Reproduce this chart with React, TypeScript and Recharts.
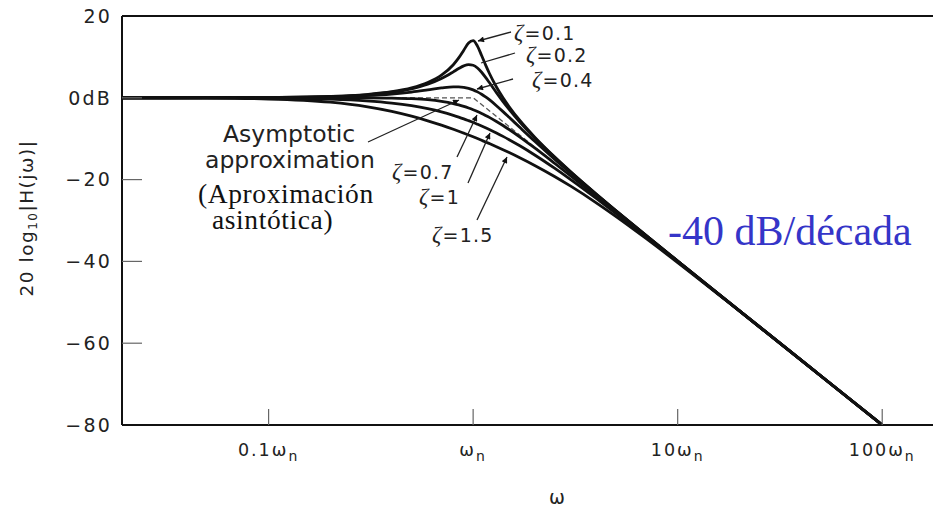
import React from "react";
import { LineChart, Line, XAxis, YAxis, ReferenceLine } from "recharts";

// Frequencies (in units of ωn) and magnitudes (dB)
const FREQ = [0.0192, 0.05, 0.1, 0.2, 0.3, 0.4, 0.5, 0.6, 0.7, 0.8, 0.85, 0.9, 0.95, 1, 1.05, 1.1, 1.15, 1.2, 1.3, 1.4, 1.5, 1.7, 2, 2.5, 3, 4, 5, 7, 10, 20, 50, 100];
const DB_Z01 = [0, 0.02, 0.09, 0.35, 0.8, 1.48, 2.42, 3.73, 5.53, 8.09, 9.75, 11.64, 13.41, 13.98, 12.63, 10.34, 8.04, 6.0, 2.65, 0.0, -2.18, -5.67, -9.62, -14.44, -18.09, -23.53, -27.61, -33.63, -39.92, -52.02, -67.96, -80.0];
const DB_Z02 = [0, 0.02, 0.08, 0.33, 0.74, 1.36, 2.2, 3.3, 4.7, 6.35, 7.15, 7.81, 8.13, 7.96, 7.28, 6.24, 5.01, 3.73, 1.27, -0.92, -2.84, -6.06, -9.84, -14.56, -18.16, -23.57, -27.63, -33.64, -39.92, -52.02, -67.96, -80.0];
const DB_Z04 = [0, 0.01, 0.06, 0.24, 0.53, 0.93, 1.41, 1.94, 2.41, 2.68, 2.68, 2.56, 2.31, 1.94, 1.45, 0.87, 0.22, -0.47, -1.93, -3.38, -4.78, -7.34, -10.63, -14.99, -18.44, -23.72, -27.72, -33.68, -39.94, -52.03, -67.96, -80.0];
const DB_Z07 = [0, 0.0, 0.0, 0.0, -0.02, -0.08, -0.22, -0.47, -0.87, -1.41, -1.74, -2.11, -2.5, -2.92, -3.37, -3.83, -4.31, -4.79, -5.79, -6.78, -7.76, -9.66, -12.26, -16.0, -19.12, -24.09, -27.96, -33.8, -40.0, -52.04, -67.96, -80.0];
const DB_Z10 = [0, -0.02, -0.09, -0.34, -0.75, -1.29, -1.94, -2.67, -3.46, -4.3, -4.72, -5.15, -5.59, -6.02, -6.46, -6.89, -7.32, -7.75, -8.6, -9.43, -10.24, -11.8, -13.98, -17.21, -20.0, -24.61, -28.3, -33.98, -40.09, -52.06, -67.96, -80.0];
const DB_Z15 = [-0.01, -0.08, -0.29, -1.08, -2.14, -3.32, -4.49, -5.62, -6.69, -7.7, -8.18, -8.65, -9.1, -9.54, -9.97, -10.39, -10.79, -11.19, -11.96, -12.69, -13.39, -14.71, -16.53, -19.23, -21.61, -25.67, -29.04, -34.39, -40.29, -52.12, -67.97, -80.0];

const ZETAS = ["0.1", "0.2", "0.4", "0.7", "1", "1.5"];
const SERIES = [DB_Z01, DB_Z02, DB_Z04, DB_Z07, DB_Z10, DB_Z15];

// Asymptotic approximation
const ASYM_FREQ = [0.0192, 1, 100];
const ASYM_DB = [0, 0, -80];

const X_TICKS = [0.1, 1, 10, 100];
const X_TICK_LABELS = ["0.1ω", "ω", "10ω", "100ω"];
const Y_TICKS = [-80, -60, -40, -20, 0, 20];
const Y_TICK_LABELS = ["−80", "−60", "−40", "−20", "0dB", "20"];

const data = FREQ.map((w, i) => {
  const row: Record<string, number> = { w };
  SERIES.forEach((s, k) => {
    row["z" + k] = s[i];
  });
  return row;
});
const asymData = ASYM_FREQ.map((w, i) => ({ w, a: ASYM_DB[i] }));

const SANS = "DejaVu Sans, Verdana, sans-serif";
const SERIF = "Liberation Serif, Times New Roman, serif";

const XTick = (props: any) => {
  const { x, y, payload } = props;
  const idx = X_TICKS.indexOf(payload.value);
  const label = idx >= 0 ? X_TICK_LABELS[idx] : "";
  return (
    <g>
      <line x1={x} x2={x} y1={y} y2={y - 16} stroke="#666" strokeWidth={1.2} />
      <text x={x} y={y + 31} textAnchor="middle" fontFamily={SANS} fontSize={17.5} fill="#222" letterSpacing={2}>
        {label}
        <tspan fontSize={14} dy={5}>n</tspan>
      </text>
    </g>
  );
};

const YTick = (props: any) => {
  const { x, y, payload } = props;
  const v = payload.value;
  const idx = Y_TICKS.indexOf(v);
  const label = idx >= 0 ? Y_TICK_LABELS[idx] : "";
  return (
    <g>
      {v > -80 && v < 20 && <line x1={x} x2={x + 20} y1={y} y2={y} stroke="#666" strokeWidth={1.2} />}
      <text x={x - 10} y={y} dy="0.36em" textAnchor="end" fontFamily={SANS} fontSize={19} fill="#222" letterSpacing={2.2}>
        {label}
      </text>
    </g>
  );
};

const ZetaLabel = ({ x, y, z }: { x: number; y: number; z: string }) => (
  <text x={x} y={y} fontFamily={SANS} fontSize={19} fill="#222" letterSpacing={1.2}>
    <tspan fontFamily={SERIF} fontStyle="italic" fontSize={23}>ζ</tspan>
    {"=" + z}
  </text>
);

export default function App() {
  const arrow = { stroke: "#222", strokeWidth: 1.3, markerEnd: "url(#ah)" };
  return (
    <div style={{ position: "absolute", top: 0, left: 8, width: 925, height: 509, overflow: "hidden", background: "#fff" }}>
      <LineChart width={940} height={509} data={data} margin={{ top: 16, right: 0, bottom: 0, left: 0 }}>
        <XAxis
          dataKey="w"
          type="number"
          scale="log"
          domain={[0.0192, 209.7]}
          allowDataOverflow
          ticks={X_TICKS}
          interval={0}
          tick={<XTick />}
          tickSize={0}
          tickMargin={0}
          tickLine={false}
          axisLine={{ stroke: "#111", strokeWidth: 2 }}
          height={84}
        />
        <YAxis
          type="number"
          domain={[-80, 20]}
          allowDataOverflow
          ticks={Y_TICKS}
          interval={0}
          tick={<YTick />}
          tickSize={0}
          tickMargin={0}
          tickLine={false}
          axisLine={{ stroke: "#111", strokeWidth: 2 }}
          width={114}
        />
        <ReferenceLine y={20} stroke="#111" strokeWidth={2} />
        <Line
          data={asymData}
          dataKey="a"
          type="linear"
          stroke="#555"
          strokeWidth={1.3}
          strokeDasharray="5 3"
          dot={false}
          activeDot={false}
          isAnimationActive={false}
        />
        {ZETAS.map((z, k) => (
          <Line
            key={z}
            dataKey={"z" + k}
            name={"ζ=" + z}
            type="monotone"
            stroke="#111"
            strokeWidth={2.8}
            dot={false}
            activeDot={false}
            isAnimationActive={false}
          />
        ))}
      </LineChart>
      <svg width={925} height={509} style={{ position: "absolute", left: 0, top: 0, pointerEvents: "none" }}>
        <defs>
          <marker id="ah" viewBox="0 0 10 10" refX="10" refY="5" markerWidth="9" markerHeight="6" orient="auto" markerUnits="userSpaceOnUse">
            <path d="M0,0 L10,5 L0,10 z" fill="#111" />
          </marker>
        </defs>
        <g transform="translate(-8,0)">
          {/* axis titles */}
          <text transform="translate(27,218) rotate(-90)" textAnchor="middle" dy="0.35em" fontFamily={SANS} fontSize={18.5} fill="#222" letterSpacing={1.5}>
            20 log<tspan fontSize={12} dy={4}>10</tspan>
            <tspan dy={-4}>|H(jω)|</tspan>
          </text>
          <text x={557} y={504} textAnchor="middle" fontFamily={SANS} fontSize={19} fill="#222">ω</text>

          {/* zeta labels and arrows */}
          <ZetaLabel x={514} y={40} z={ZETAS[0]} />
          <line x1={511} y1={32} x2={478} y2={41} {...arrow} />
          <ZetaLabel x={526} y={62} z={ZETAS[1]} />
          <line x1={515} y1={53} x2={481} y2={63} stroke="#222" strokeWidth={1.3} />
          <ZetaLabel x={532} y={87} z={ZETAS[2]} />
          <line x1={513} y1={79} x2={477} y2={89} {...arrow} />
          <ZetaLabel x={392} y={179} z={ZETAS[3]} />
          <line x1={457} y1={157} x2={477} y2={115} {...arrow} />
          <ZetaLabel x={419} y={204} z={ZETAS[4]} />
          <line x1={468} y1={183} x2={490} y2={133} {...arrow} />
          <ZetaLabel x={432} y={242} z={ZETAS[5]} />
          <line x1={477} y1={220} x2={507} y2={157} {...arrow} />

          {/* asymptote annotation */}
          <text x={223} y={142} fontFamily={SANS} fontSize={23.5} fill="#222">Asymptotic</text>
          <text x={205} y={168} fontFamily={SANS} fontSize={23.5} fill="#222">approximation</text>
          <line x1={368} y1={142} x2={459} y2={100} {...arrow} />
          <text x={198} y={203} fontFamily={SERIF} fontSize={27.5} fill="#111" letterSpacing={0.6}>(Aproximación</text>
          <text x={212} y={229} fontFamily={SERIF} fontSize={27.5} fill="#111" letterSpacing={0.6}>asintótica)</text>

          <text x={668} y={245} fontFamily={SERIF} fontSize={42} fill="#3535c8">-40 dB/década</text>
        </g>
      </svg>
    </div>
  );
}
